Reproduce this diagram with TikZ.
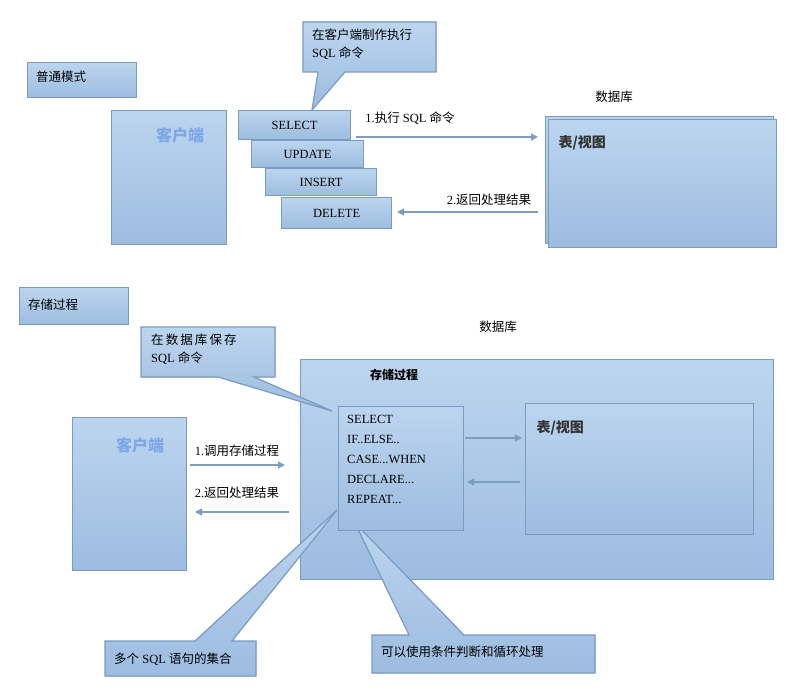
\documentclass[tikz,border=0pt]{standalone}
\usepackage{fontspec}
\setmainfont{Liberation Serif}
\newfontfamily\cjk{Noto Sans CJK SC}
\usetikzlibrary{arrows.meta, positioning}
\definecolor{boxtop}{HTML}{BCD5EF}
\definecolor{boxbot}{HTML}{9DBCE0}
\definecolor{boxline}{HTML}{7A9BC2}
\definecolor{arrowc}{HTML}{7F9DBD}
\definecolor{clitext}{HTML}{7FA6E6}
\tikzset{
  box/.style={draw=boxline, line width=1.2pt, top color=boxtop, bottom color=boxbot,
    anchor=north west, inner sep=0pt},
  flow/.style={draw=arrowc, line width=1.3pt, -{Triangle[length=7pt,width=7pt]}},
  lbl/.style={font=\fontsize{12.5}{15}\selectfont, inner sep=1pt},
  cli/.style={font=\cjk\bfseries\fontsize{16}{18}\selectfont, text=clitext},
  tbl/.style={font=\cjk\bfseries\fontsize{14}{16}\selectfont, text=black!80}
}
\begin{document}
\begin{tikzpicture}[x=1pt, y=-1pt]
    \useasboundingbox (0,0) rectangle (793,698);

    % normal mode
    \node[box, minimum width=109pt, minimum height=35pt] (mode1) at (27,62) {};
    \node[lbl, anchor=west] at (35,77) {\cjk 普通模式};

    % client
    \node[box, minimum width=115pt, minimum height=134pt] (client1) at (111,110) {};
    \node[cli] (cname1) at (180,135) {客户端};

    % callout
    \filldraw[box] (303,22) -- (436,22) -- (436,72) -- (345,72) -- (312,110) -- (318,72) -- (303,72) -- cycle;
    \node[lbl, anchor=north west, align=left] (note1) at (311,28) {{\cjk 在客户端制作执行}\\[3pt]SQL {\cjk 命令}};

    % statements
    \node[box, minimum width=112pt, minimum height=29pt] (sel) at (238,110) {};
    \node[lbl] at (sel.center) {SELECT};
    \node[box, minimum width=112pt, minimum height=27pt] (upd) at (251,140) {};
    \node[lbl] at (upd.center) {UPDATE};
    \node[box, minimum width=111pt, minimum height=27pt] (ins) at (265,168) {};
    \node[lbl] at (ins.center) {INSERT};
    \node[box, minimum width=110pt, minimum height=31pt] (del) at (281,197) {};
    \node[lbl] at (del.center) {DELETE};

    % database
    \node[lbl] (db1) at (614,97) {\cjk 数据库};
    \node[box, minimum width=228pt, minimum height=127pt] (dbback) at (545,116) {};
    \node[box, minimum width=228pt, minimum height=128pt] (dbfront) at (548,119) {};
    \node[tbl, anchor=west] (view1) at (555,143) {表/视图};

    % arrows
    \coordinate (a1s) at (356,137);
    \coordinate (a1e) at (538,137);
    \draw[flow] (a1s) -- (a1e);
    \node[lbl] at (410,118) {1.{\cjk 执行} SQL {\cjk 命令}};
    \coordinate (a2s) at (538,212);
    \coordinate (a2e) at (397,212);
    \draw[flow] (a2s) -- (a2e);
    \node[lbl] at (489,200) {2.{\cjk 返回处理结果}};

    % stored procedure mode
    \node[box, minimum width=109pt, minimum height=37pt] (mode2) at (19,287) {};
    \node[lbl, anchor=west] at (27,305) {\cjk 存储过程};
    \node[lbl] (db2) at (498,327) {\cjk 数据库};

    \node[box, minimum width=473pt, minimum height=220pt] (dbout) at (300,359) {};
    \node[font=\cjk\bfseries\fontsize{12}{14}\selectfont] (procname) at (394,375) {存储过程};

    % callouts
    \filldraw[box] (141,327) -- (275,327) -- (275,377) -- (254,377) -- (332,411) -- (218,377) -- (141,377) -- cycle;
    \node[lbl, anchor=north west, align=left] (note2) at (150,333) {{\cjk 在\,数\,据\,库\,保\,存}\\[3pt]SQL {\cjk 命令}};
    \filldraw[box] (105,641) -- (195,641) -- (337,510) -- (232,641) -- (256,641) -- (256,676) -- (105,676) -- cycle;
    \node[lbl, anchor=west] (note3) at (113,659) {{\cjk 多个} SQL {\cjk 语句的集合}};
    \filldraw[box] (372,635) -- (409,635) -- (355,523) -- (464,635) -- (595,635) -- (595,673) -- (372,673) -- cycle;
    \node[lbl, anchor=west] (note4) at (380,652) {\cjk 可以使用条件判断和循环处理};

    % procedure body
    \node[box, minimum width=125pt, minimum height=124pt] (body) at (338,406) {};
    \node[lbl, anchor=north west, align=left] at (346,414) {SELECT\\[5pt]IF..ELSE..\\[5pt]CASE...WHEN\\[5pt]DECLARE...\\[5pt]REPEAT...};

    \node[box, minimum width=228pt, minimum height=131pt] (view2box) at (525,403) {};
    \node[tbl, anchor=west] (view2) at (533,428) {表/视图};

    \coordinate (b1s) at (465,438);
    \coordinate (b1e) at (522,438);
    \draw[flow] (b1s) -- (b1e);
    \coordinate (b2s) at (520,482);
    \coordinate (b2e) at (467,482);
    \draw[flow] (b2s) -- (b2e);

    % client 2
    \node[box, minimum width=114pt, minimum height=153pt] (client2) at (72,417) {};
    \node[cli] (cname2) at (140,445) {客户端};

    \coordinate (c1s) at (190,465);
    \coordinate (c1e) at (285,465);
    \draw[flow] (c1s) -- (c1e);
    \node[lbl] at (237,451) {1.{\cjk 调用存储过程}};
    \coordinate (c2s) at (289,512);
    \coordinate (c2e) at (195,512);
    \draw[flow] (c2s) -- (c2e);
    \node[lbl] at (237,493) {2.{\cjk 返回处理结果}};
\end{tikzpicture}
\end{document}
